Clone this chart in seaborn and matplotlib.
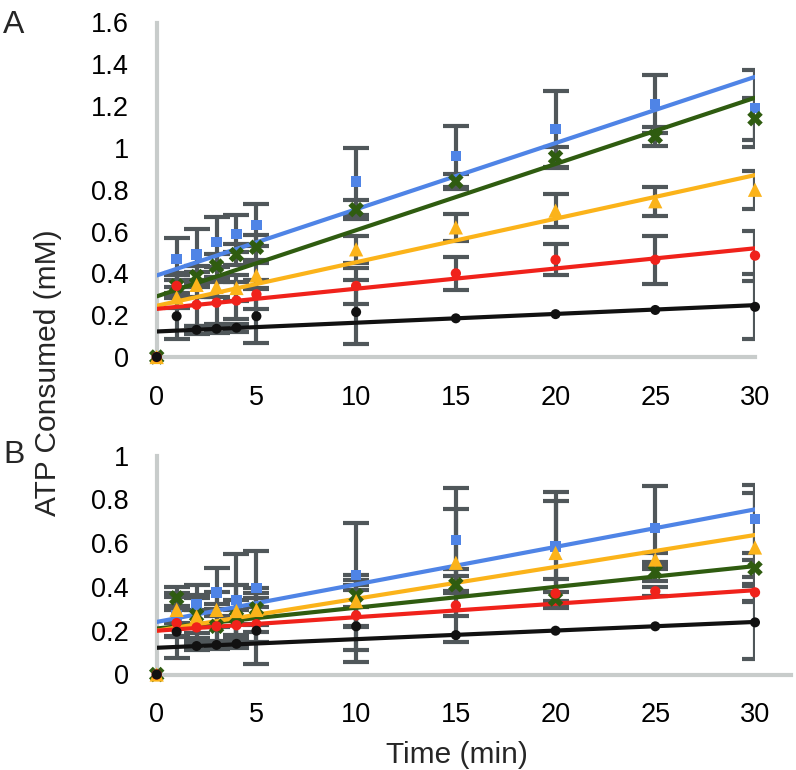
import numpy as np
import pandas as pd
import matplotlib
matplotlib.use("Agg")
import matplotlib.pyplot as plt
import seaborn as sns

# ---------------- data ----------------
time_min = [0, 1, 2, 3, 4, 5, 10, 15, 20, 25, 30]
series_names = ["blue", "green", "yellow", "red", "black"]

# Panel A
a_blue = [0, 0.47, 0.49, 0.55, 0.59, 0.63, 0.84, 0.96, 1.09, 1.21, 1.19]
a_blue_err = [0, 0.10, 0.12, 0.12, 0.09, 0.10, 0.16, 0.145, 0.18, 0.14, 0.185]
a_green = [0, 0.34, 0.385, 0.435, 0.49, 0.525, 0.705, 0.84, 0.955, 1.055, 1.14]
a_green_err = [0, 0.06, 0.05, 0.06, 0.05, 0.06, 0.045, 0.035, 0.05, 0.045, 0.10]
a_yellow = [0, 0.285, 0.345, 0.335, 0.33, 0.39, 0.515, 0.62, 0.70, 0.745, 0.80]
a_yellow_err = [0, 0.05, 0.06, 0.05, 0.06, 0.06, 0.065, 0.065, 0.08, 0.07, 0.09]
a_red = [0, 0.34, 0.25, 0.26, 0.27, 0.30, 0.34, 0.40, 0.465, 0.465, 0.485]
a_red_err = [0, 0.05, 0.10, 0.10, 0.09, 0.07, 0.085, 0.08, 0.075, 0.115, 0.12]
a_black = [0, 0.195, 0.13, 0.135, 0.14, 0.195, 0.215, 0.185, 0.205, 0.225, 0.24]
a_black_err = [0, 0.11, 0.02, 0.02, 0.02, 0.13, 0.155, 0, 0, 0, 0.155]
a_fit_start = [0.39, 0.29, 0.245, 0.23, 0.122]
a_fit_end = [1.34, 1.24, 0.87, 0.52, 0.248]

# Panel B
b_blue = [0, 0.27, 0.32, 0.375, 0.34, 0.395, 0.455, 0.615, 0.585, 0.67, 0.71]
b_blue_err = [0, 0.10, 0.09, 0.11, 0.21, 0.17, 0.235, 0.235, 0.25, 0.19, 0.155]
b_green = [0, 0.35, 0.27, 0.22, 0.26, 0.30, 0.36, 0.41, 0.345, 0.47, 0.485]
b_green_err = [0, 0.05, 0.08, 0.10, 0.08, 0.07, 0.05, 0.04, 0.03, 0.045, 0.04]
b_yellow = [0, 0.295, 0.265, 0.295, 0.29, 0.295, 0.335, 0.51, 0.555, 0.525, 0.58]
b_yellow_err = [0, 0.06, 0.10, 0.08, 0.12, 0.10, 0.12, 0.245, 0.235, 0.03, 0.25]
b_red = [0, 0.235, 0.215, 0.22, 0.225, 0.23, 0.27, 0.315, 0.37, 0.38, 0.375]
b_red_err = [0, 0.06, 0.08, 0.08, 0.07, 0.08, 0.16, 0.165, 0.065, 0.02, 0.04]
b_black = [0, 0.195, 0.13, 0.135, 0.14, 0.20, 0.22, 0.18, 0.20, 0.22, 0.238]
b_black_err = [0, 0.12, 0.02, 0.02, 0.02, 0.15, 0.165, 0, 0, 0, 0.165]
b_fit_start = [0.24, 0.21, 0.20, 0.20, 0.122]
b_fit_end = [0.754, 0.495, 0.637, 0.385, 0.24]

fit_times = [0, 30]
a_yticks = [0, 0.2, 0.4, 0.6, 0.8, 1.0, 1.2, 1.4, 1.6]
a_yticklabels = ["0", "0.2", "0.4", "0.6", "0.8", "1", "1.2", "1.4", "1.6"]
b_yticks = [0, 0.2, 0.4, 0.6, 0.8, 1.0]
b_yticklabels = ["0", "0.2", "0.4", "0.6", "0.8", "1"]
xticks = [0, 5, 10, 15, 20, 25, 30]

# ---------------- style ----------------
colors = {"blue": "#4f84e6", "green": "#2f5c10", "yellow": "#fbb31a",
          "red": "#f0221b", "black": "#111111"}
markers = {"blue": "s", "green": "X", "yellow": "^", "red": "o", "black": "o"}
sizes = {"blue": 55, "green": 125, "yellow": 105, "red": 55, "black": 52}
ERR = "#50575a"
AXIS = "#c8cccb"
CAP_HALF_PX = 13.0
ERR_LW = 3.0

sns.set_theme(style="white")
plt.rcParams["font.family"] = ["Liberation Sans", "DejaVu Sans"]

fig = plt.figure(figsize=(7.96, 7.70), dpi=100)
W, H = 796.0, 770.0
x0, x1 = 156.7, 755.0
axA = fig.add_axes([x0 / W, 1 - 357 / H, (x1 - x0) / W, (357 - 22.5) / H])
axB = fig.add_axes([x0 / W, 1 - 674.5 / H, (x1 - x0) / W, (674.5 - 455.5) / H])


def draw_panel(ax, vals, errs, fit_start, fit_end, ymax, yticks, yticklabels):
    ax.set_xlim(0, 30)
    ax.set_ylim(0, ymax)
    t = np.array(time_min, dtype=float)
    # cap half-width in data units from a pixel size
    px_per_unit = ax.transData.transform((1, 0))[0] - ax.transData.transform((0, 0))[0]
    half = CAP_HALF_PX / px_per_unit
    # error bars (bars + caps, clipped at the plot area like the original)
    for name in series_names:
        v = np.array(vals[name], dtype=float)
        e = np.array(errs[name], dtype=float)
        m = e > 0
        ax.vlines(t[m], v[m] - e[m], v[m] + e[m], colors=ERR, linewidth=ERR_LW,
                  zorder=2)
        for sign in (-1, 1):
            ax.hlines(v[m] + sign * e[m], t[m] - half, t[m] + half, colors=ERR,
                      linewidth=ERR_LW, zorder=2)
    # trend lines
    fit_df = pd.DataFrame({
        "t": [tt for _ in series_names for tt in fit_times],
        "v": [val for s, e in zip(fit_start, fit_end) for val in (s, e)],
        "series": [n for n in series_names for _ in fit_times],
    })
    sns.lineplot(data=fit_df, x="t", y="v", hue="series", palette=colors,
                 linewidth=3.0, legend=False, ax=ax, zorder=3)
    # markers
    pts = pd.DataFrame({
        "t": list(time_min) * len(series_names),
        "v": [x for n in series_names for x in vals[n]],
        "series": [n for n in series_names for _ in time_min],
    })
    sns.scatterplot(data=pts, x="t", y="v", hue="series", palette=colors,
                    style="series", markers=markers, size="series", sizes=sizes,
                    linewidth=0, legend=False, ax=ax, zorder=4, clip_on=False)
    ax.set_xlim(0, 30)
    ax.set_ylim(0, ymax)
    ax.set_xticks(xticks)
    ax.set_xticklabels([str(x) for x in xticks])
    ax.set_yticks(yticks)
    ax.set_yticklabels(yticklabels)
    ax.tick_params(length=0, labelsize=19.5, colors="black")
    ax.tick_params(axis="x", pad=20)
    ax.tick_params(axis="y", pad=20)
    ax.set_xlabel("")
    ax.set_ylabel("")
    for s in ["top", "right"]:
        ax.spines[s].set_visible(False)
    for s in ["left", "bottom"]:
        ax.spines[s].set_color(AXIS)
        ax.spines[s].set_linewidth(3)
    ax.grid(False)
    ax.set_facecolor("none")


valsA = {"blue": a_blue, "green": a_green, "yellow": a_yellow, "red": a_red, "black": a_black}
errsA = {"blue": a_blue_err, "green": a_green_err, "yellow": a_yellow_err, "red": a_red_err, "black": a_black_err}
valsB = {"blue": b_blue, "green": b_green, "yellow": b_yellow, "red": b_red, "black": b_black}
errsB = {"blue": b_blue_err, "green": b_green_err, "yellow": b_yellow_err, "red": b_red_err, "black": b_black_err}

draw_panel(axA, valsA, errsA, a_fit_start, a_fit_end, 1.6, a_yticks, a_yticklabels)
draw_panel(axB, valsB, errsB, b_fit_start, b_fit_end, 1.0, b_yticks, b_yticklabels)
axB.spines["bottom"].set_bounds(0, 31.8)

fig.text(14 / W, 1 - 25 / H, "A", fontsize=23, ha="center", va="center")
fig.text(14 / W, 1 - 455 / H, "B", fontsize=23, ha="center", va="center")
fig.text(48 / W, 1 - 373 / H, "ATP Consumed (mM)", fontsize=21.5, rotation=90,
         ha="center", va="center")
fig.text(456.7 / W, 1 - 763 / H, "Time (min)", fontsize=21.5, ha="center",
         va="baseline")

fig.savefig("out.png", dpi=100)
